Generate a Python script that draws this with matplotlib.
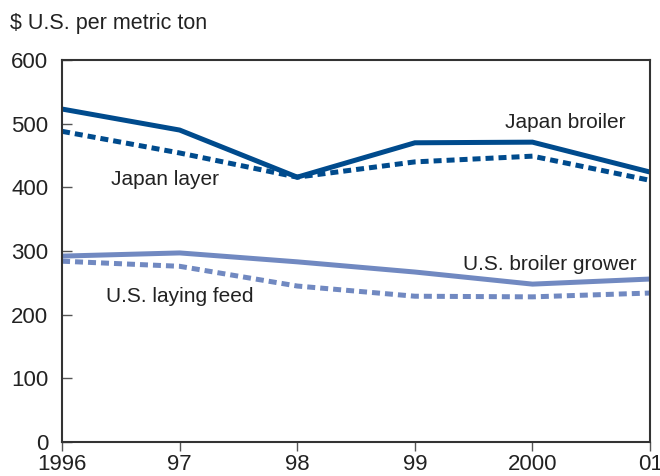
import matplotlib.pyplot as plt

plt.rcParams["font.family"] = ["Liberation Sans", "DejaVu Sans"]

# Data
years = [1996, 1997, 1998, 1999, 2000, 2001]
year_labels = ["1996", "97", "98", "99", "2000", "01"]
japan_broiler = [523, 490, 416, 470, 471, 424]
japan_layer = [488, 454, 416, 440, 449, 411]
us_broiler_grower = [292, 297, 283, 267, 248, 256]
us_laying_feed = [284, 276, 245, 229, 228, 234]

dark = "#004b8d"
light = "#7189c1"
text_col = "#222222"

fig = plt.figure(figsize=(6.6, 4.76), dpi=100)
ax = fig.add_axes([0.094, 0.0714, 0.891, 0.8025])

ax.plot(years, japan_broiler, color=dark, lw=3.6, solid_joinstyle="miter")
ax.plot(years, japan_layer, color=dark, lw=3.6, dashes=(1.6, 1.0))
ax.plot(years, us_broiler_grower, color=light, lw=3.6)
ax.plot(years, us_laying_feed, color=light, lw=3.6, dashes=(1.6, 1.0))

ax.set_xlim(1996, 2001)
ax.set_ylim(0, 600)
ax.set_xticks(years)
ax.set_xticklabels(year_labels)
ax.set_yticks([0, 100, 200, 300, 400, 500, 600])

ax.tick_params(axis="both", labelsize=16, labelcolor=text_col, color="#555555", width=1)
ax.tick_params(axis="x", direction="out", length=6.5, pad=2)
ax.tick_params(axis="y", direction="in", length=7, pad=10)
for s in ax.spines.values():
    s.set_color("#333333")
    s.set_linewidth(1.5)

# Series labels
fs = 15
ax.text(1999.77, 493, "Japan broiler", fontsize=fs, color=text_col, va="baseline")
ax.text(1996.42, 404, "Japan layer", fontsize=fs, color=text_col, va="baseline")
ax.text(1999.41, 270, "U.S. broiler grower", fontsize=fs, color=text_col, va="baseline")
ax.text(1996.37, 220, "U.S. laying feed", fontsize=fs, color=text_col, va="baseline")

fig.text(10 / 660, 1 - 29 / 476, "$ U.S. per metric ton", fontsize=15.5,
         color=text_col, va="baseline", ha="left")

fig.savefig("out.png", dpi=100)
